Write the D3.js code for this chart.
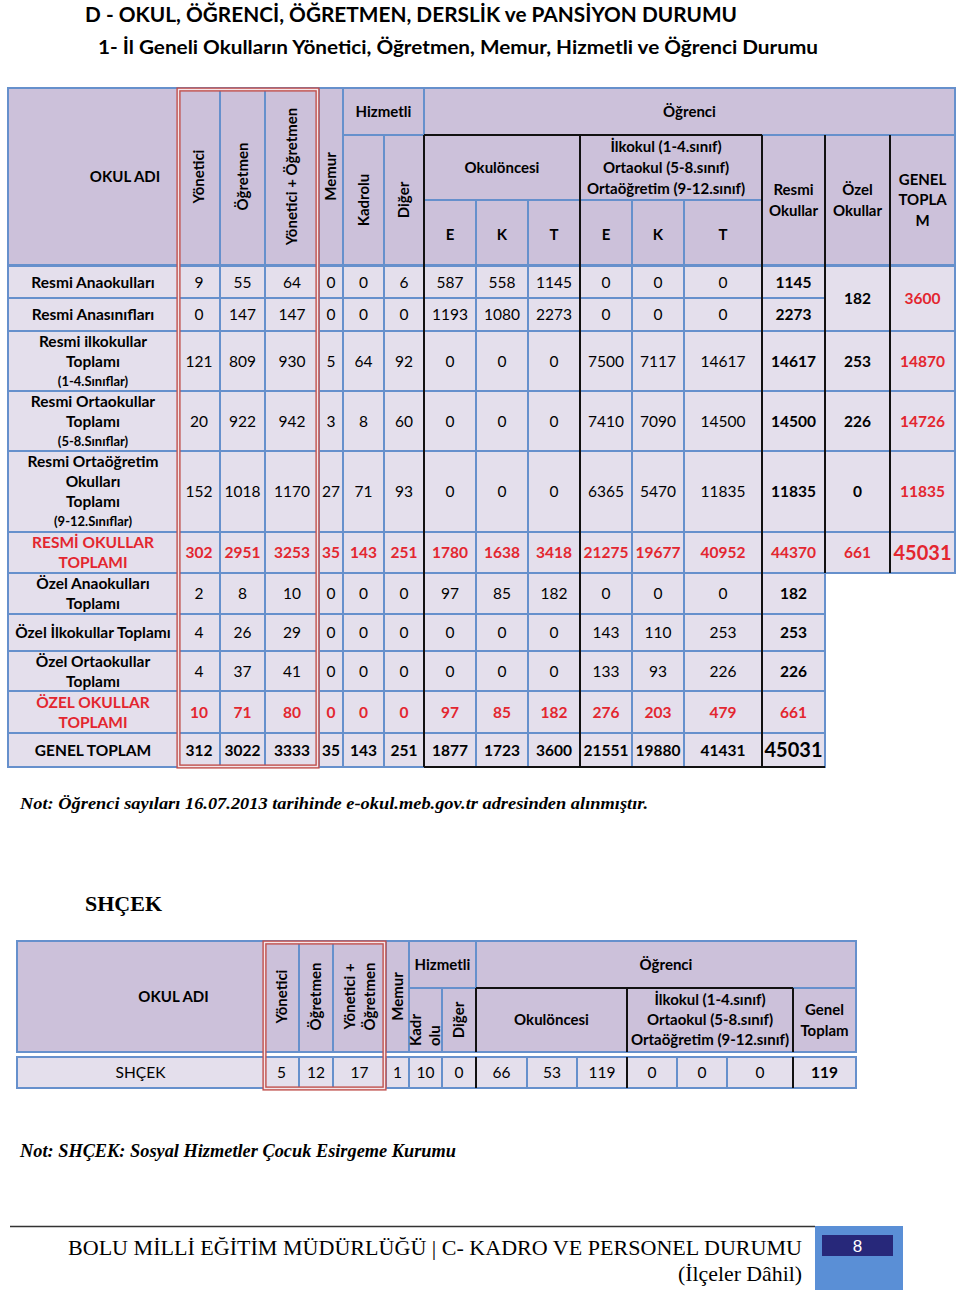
<!DOCTYPE html>
<html>
<head>
<meta charset="utf-8">
<script src="https://cdn.jsdelivr.net/npm/d3@7"></script>
<style>
  body { margin: 0; background: #fff; }
  svg { display: block; font-family: Lato, "Open Sans", sans-serif; }
</style>
</head>
<body>
<svg id="page" width="960" height="1298"></svg>
<script>
// ---- data ----
const rowLabels = [
  ["Resmi Anaokulları"],
  ["Resmi Anasınıfları"],
  ["Resmi ilkokullar", "Toplamı", "(1-4.Sınıflar)"],
  ["Resmi Ortaokullar", "Toplamı", "(5-8.Sınıflar)"],
  ["Resmi Ortaöğretim", "Okulları", "Toplamı", "(9-12.Sınıflar)"],
  ["RESMİ OKULLAR", "TOPLAMI"],
  ["Özel Anaokulları", "Toplamı"],
  ["Özel İlkokullar Toplamı"],
  ["Özel Ortaokullar", "Toplamı"],
  ["ÖZEL OKULLAR", "TOPLAMI"],
  ["GENEL TOPLAM"]
];
// n = normal row, t = red sub total, g = grand total
const rowKinds = ["n", "n", "n", "n", "n", "t", "n", "n", "n", "t", "g"];

const columns = ["yon", "ogr", "yonOgr", "memur", "kadrolu", "diger", "okE", "okK", "okT", "ilE", "ilK", "ilT"];
const rowValues = [
  [9, 55, 64, 0, 0, 6, 587, 558, 1145, 0, 0, 0],
  [0, 147, 147, 0, 0, 0, 1193, 1080, 2273, 0, 0, 0],
  [121, 809, 930, 5, 64, 92, 0, 0, 0, 7500, 7117, 14617],
  [20, 922, 942, 3, 8, 60, 0, 0, 0, 7410, 7090, 14500],
  [152, 1018, 1170, 27, 71, 93, 0, 0, 0, 6365, 5470, 11835],
  [302, 2951, 3253, 35, 143, 251, 1780, 1638, 3418, 21275, 19677, 40952],
  [2, 8, 10, 0, 0, 0, 97, 85, 182, 0, 0, 0],
  [4, 26, 29, 0, 0, 0, 0, 0, 0, 143, 110, 253],
  [4, 37, 41, 0, 0, 0, 0, 0, 0, 133, 93, 226],
  [10, 71, 80, 0, 0, 0, 97, 85, 182, 276, 203, 479],
  [312, 3022, 3333, 35, 143, 251, 1877, 1723, 3600, 21551, 19880, 41431]
];
const resmiOkullar = [1145, 2273, 14617, 14500, 11835, 44370, 182, 253, 226, 661, 45031];
// Özel / Genel columns: first value covers the first two rows
const ozelRows = [[0, 1], [2, 2], [3, 3], [4, 4], [5, 5]];
const ozelOkullar = [182, 253, 226, 0, 661];
const genelToplam = [3600, 14870, 14726, 11835, 45031];

const shcekName = "SHÇEK";
const shcekValues = [5, 12, 17, 1, 10, 0, 66, 53, 119, 0, 0, 0];
const shcekTotal = 119;

// ---- layout ----
const BLUE = "#6690cc", HEAD = "#ccc1da", CELL = "#e4dfec", RED = "#e3262f", BOX = "#c0504d";
const svg = d3.select("#page");

const colKeys = ["name", ...columns, "resmi", "ozel", "genel"];
const colEdges = [8, 178, 220, 265, 319, 343, 384, 424, 476, 528, 580, 632, 684, 762, 825, 890, 955];
const colX = d3.scaleOrdinal(colKeys, colEdges.slice(0, -1));
const colW = d3.scaleOrdinal(colKeys, d3.pairs(colEdges, (a, b) => b - a));

const rowIdx = d3.range(rowLabels.length);
const rowEdges = [266, 298, 331, 391, 451, 532, 573, 614, 651, 691, 733, 767];
const rowY = d3.scaleOrdinal(rowIdx, rowEdges.slice(0, -1));
const rowH = d3.scaleOrdinal(rowIdx, d3.pairs(rowEdges, (a, b) => b - a));

function label(parent, x, y, lines, o = {}) {
  const size = o.size || 15, lh = o.lh || 20;
  const g = parent.append("g")
    .attr("transform", `translate(${x},${y})` + (o.rotate ? " rotate(-90)" : ""));
  const t = g.append("text")
    .attr("text-anchor", o.anchor || "middle")
    .attr("font-weight", o.weight || "bold")
    .attr("fill", o.color || "#000");
  if (o.family) t.attr("font-family", o.family);
  if (o.style) t.attr("font-style", o.style);
  lines.forEach((line, i) => {
    const small = o.smallParen && line.startsWith("(");
    const sp = t.append("tspan")
      .attr("x", 0)
      .attr("y", (i - (lines.length - 1) / 2) * lh)
      .attr("dy", "0.36em")
      .attr("font-size", small ? 13 : size)
      .text(line);
    if (o.textLength) sp.attr("textLength", o.textLength).attr("lengthAdjust", "spacingAndGlyphs");
  });
  return t;
}

// ---- titles ----
label(svg, 85, 14, ["D - OKUL, ÖĞRENCİ, ÖĞRETMEN, DERSLİK ve PANSİYON DURUMU"],
  { anchor: "start", size: 21, textLength: 652 });
label(svg, 98, 47, ["1-  İl Geneli Okulların Yönetici, Öğretmen, Memur, Hizmetli ve Öğrenci Durumu"],
  { anchor: "start", size: 19, textLength: 720 });

// ---- main table header ----
const head = svg.append("g");
const mainHeader = [
  { x0: 8, x1: 178, y0: 88, y1: 265, lines: ["OKUL ADI"], dx: 32 },
  { x0: 178, x1: 220, y0: 88, y1: 265, lines: ["Yönetici"], rotate: true },
  { x0: 220, x1: 265, y0: 88, y1: 265, lines: ["Öğretmen"], rotate: true },
  { x0: 265, x1: 319, y0: 88, y1: 265, lines: ["Yönetici + Öğretmen"], rotate: true },
  { x0: 319, x1: 343, y0: 88, y1: 265, lines: ["Memur"], rotate: true },
  { x0: 343, x1: 424, y0: 88, y1: 135, lines: ["Hizmetli"] },
  { x0: 343, x1: 384, y0: 135, y1: 265, lines: ["Kadrolu"], rotate: true },
  { x0: 384, x1: 424, y0: 135, y1: 265, lines: ["Diğer"], rotate: true },
  { x0: 424, x1: 955, y0: 88, y1: 135, lines: ["Öğrenci"] },
  { x0: 424, x1: 580, y0: 135, y1: 200, lines: ["Okulöncesi"] },
  { x0: 580, x1: 762, y0: 135, y1: 200, lines: ["İlkokul (1-4.sınıf)", "Ortaokul (5-8.sınıf)", "Ortaöğretim (9-12.sınıf)"], dx: -5, lh: 21 },
  { x0: 762, x1: 825, y0: 135, y1: 265, lines: ["Resmi", "Okullar"], lh: 21 },
  { x0: 825, x1: 890, y0: 135, y1: 265, lines: ["Özel", "Okullar"], lh: 21 },
  { x0: 890, x1: 955, y0: 135, y1: 265, lines: ["GENEL", "TOPLA", "M"], lh: 20.5 }
];
["okE", "okK", "okT", "ilE", "ilK", "ilT"].forEach((k, i) => {
  mainHeader.push({ x0: colX(k), x1: colX(k) + colW(k), y0: 200, y1: 265, lines: ["EKTEKT"[i]], dy: 2 });
});
mainHeader.forEach(h => {
  head.append("rect").attr("x", h.x0).attr("y", h.y0).attr("width", h.x1 - h.x0).attr("height", h.y1 - h.y0)
    .attr("fill", HEAD).attr("stroke", BLUE).attr("stroke-width", 2);
});
mainHeader.forEach(h => {
  label(head, (h.x0 + h.x1) / 2 + (h.dx || 0), (h.y0 + h.y1) / 2 + (h.dy || 0), h.lines,
    { rotate: h.rotate, size: 15, lh: h.lh });
});

// ---- main table body ----
const body = svg.append("g");
const cells = [];
rowIdx.forEach(r => {
  const kind = rowKinds[r];
  cells.push({ key: "name", r0: r, r1: r, lines: rowLabels[r], weight: "bold", color: kind === "t" ? RED : "#000", size: 15.5 });
  columns.forEach((k, ci) => {
    cells.push({ key: k, r0: r, r1: r, lines: [String(rowValues[r][ci])],
      weight: kind === "n" ? "normal" : "bold", color: kind === "t" ? RED : "#000" });
  });
  cells.push({ key: "resmi", r0: r, r1: r, lines: [String(resmiOkullar[r])], weight: "bold",
    color: kind === "t" ? RED : "#000", size: kind === "g" ? 20 : 15.5 });
});
ozelRows.forEach(([r0, r1], i) => {
  const total = rowKinds[r0] === "t";
  cells.push({ key: "ozel", r0, r1, lines: [String(ozelOkullar[i])], weight: "bold", color: total ? RED : "#000", size: 15.5 });
  cells.push({ key: "genel", r0, r1, lines: [String(genelToplam[i])], weight: "bold", color: RED, size: total ? 20 : 15.5 });
});

cells.forEach(c => {
  c.x = colX(c.key); c.w = colW(c.key);
  c.y = rowY(c.r0); c.h = rowY(c.r1) + rowH(c.r1) - c.y;
});
body.selectAll("rect").data(cells).join("rect")
  .attr("x", d => d.x).attr("y", d => d.y).attr("width", d => d.w).attr("height", d => d.h)
  .attr("fill", CELL).attr("stroke", BLUE).attr("stroke-width", 2);
cells.forEach(c => {
  label(body, c.x + c.w / 2, c.y + c.h / 2, c.lines,
    { size: c.size || 15.5, weight: c.weight, color: c.color, smallParen: true, lh: 20 });
});

// black separators
const lines = svg.append("g").attr("stroke", "#111").attr("stroke-width", 2);
const tableBottom = rowY(10) + rowH(10);
[colX("okE"), colX("ilE"), colX("resmi")].forEach(x => {
  lines.append("line").attr("x1", x).attr("x2", x).attr("y1", 135).attr("y2", tableBottom);
});
[colX("ozel"), colX("genel")].forEach(x => {
  lines.append("line").attr("x1", x).attr("x2", x).attr("y1", 135).attr("y2", rowY(6));
});
lines.append("line").attr("x1", colX("okE")).attr("x2", colX("resmi")).attr("y1", 135).attr("y2", 135);
lines.append("line").attr("x1", colX("okE")).attr("x2", colX("ozel")).attr("y1", tableBottom).attr("y2", tableBottom);

// red double frame
function redFrame(x, y, w, h) {
  svg.append("rect").attr("x", x).attr("y", y).attr("width", w).attr("height", h)
    .attr("fill", "none").attr("stroke", BOX).attr("stroke-width", 4.2);
  svg.append("rect").attr("x", x).attr("y", y).attr("width", w).attr("height", h)
    .attr("fill", "none").attr("stroke", "#f4e6ea").attr("stroke-width", 1.4);
}
redFrame(colX("yon") + 0.5, 89.5, colX("memur") - colX("yon") - 2, tableBottom - 90);

// ---- notes ----
label(svg, 20, 803, ["Not: Öğrenci sayıları 16.07.2013 tarihinde e-okul.meb.gov.tr adresinden alınmıştır."],
  { anchor: "start", size: 17.5, family: "'Liberation Serif', 'DejaVu Serif', serif", style: "italic", textLength: 628 });
label(svg, 85, 903, ["SHÇEK"], { anchor: "start", size: 22, family: "'Liberation Serif', serif", textLength: 77 });

// ---- SHÇEK table ----
const sKeys = ["name", ...columns, "total"];
const sEdges = [17, 264, 299, 333, 386, 409, 442, 476, 527, 577, 627, 677, 727, 793, 856];
const sX = d3.scaleOrdinal(sKeys, sEdges.slice(0, -1));
const sW = d3.scaleOrdinal(sKeys, d3.pairs(sEdges, (a, b) => b - a));

const sHead = svg.append("g");
const shcekHeader = [
  { x0: 17, x1: 264, y0: 941, y1: 1052, lines: ["OKUL ADI"], dx: 33 },
  { x0: 264, x1: 299, y0: 941, y1: 1052, lines: ["Yönetici"], rotate: true },
  { x0: 299, x1: 333, y0: 941, y1: 1052, lines: ["Öğretmen"], rotate: true },
  { x0: 333, x1: 386, y0: 941, y1: 1052, lines: ["Yönetici +", "Öğretmen"], rotate: true, lh: 20 },
  { x0: 386, x1: 409, y0: 941, y1: 1052, lines: ["Memur"], rotate: true },
  { x0: 409, x1: 476, y0: 941, y1: 988, lines: ["Hizmetli"] },
  { x0: 409, x1: 442, y0: 988, y1: 1052, lines: ["Kadr", "olu"], rotate: true, lh: 19, anchor: "start", at: 1046 },
  { x0: 442, x1: 476, y0: 988, y1: 1052, lines: ["Diğer"], rotate: true },
  { x0: 476, x1: 856, y0: 941, y1: 988, lines: ["Öğrenci"] },
  { x0: 476, x1: 627, y0: 988, y1: 1052, lines: ["Okulöncesi"] },
  { x0: 627, x1: 793, y0: 988, y1: 1052, lines: ["İlkokul (1-4.sınıf)", "Ortaokul (5-8.sınıf)", "Ortaöğretim (9-12.sınıf)"], lh: 20 },
  { x0: 793, x1: 856, y0: 988, y1: 1052, lines: ["Genel", "Toplam"], lh: 21 }
];
shcekHeader.forEach(h => {
  sHead.append("rect").attr("x", h.x0).attr("y", h.y0).attr("width", h.x1 - h.x0).attr("height", h.y1 - h.y0)
    .attr("fill", HEAD).attr("stroke", BLUE).attr("stroke-width", 2);
});
shcekHeader.forEach(h => {
  label(sHead, (h.x0 + h.x1) / 2 + (h.dx || 0), h.at || (h.y0 + h.y1) / 2, h.lines,
    { rotate: h.rotate, size: 15, lh: h.lh, anchor: h.anchor });
});

const sRow = { y: 1057, h: 31 };
const sCells = sKeys.map((k, i) => ({
  key: k,
  text: i === 0 ? shcekName : String(i <= columns.length ? shcekValues[i - 1] : shcekTotal),
  weight: k === "total" ? "bold" : "normal"
}));
svg.append("g").selectAll("rect").data(sCells).join("rect")
  .attr("x", d => sX(d.key)).attr("y", sRow.y).attr("width", d => sW(d.key)).attr("height", sRow.h)
  .attr("fill", CELL).attr("stroke", BLUE).attr("stroke-width", 2);
const sBody = svg.append("g");
sCells.forEach(d => {
  label(sBody, sX(d.key) + sW(d.key) / 2, sRow.y + sRow.h / 2, [d.text], { size: 15.5, weight: d.weight });
});

const sLines = svg.append("g").attr("stroke", "#111").attr("stroke-width", 2);
[sX("okE"), sX("ilE"), sX("total")].forEach(x => {
  sLines.append("line").attr("x1", x).attr("x2", x).attr("y1", 988).attr("y2", 1052);
  sLines.append("line").attr("x1", x).attr("x2", x).attr("y1", sRow.y).attr("y2", sRow.y + sRow.h);
});
sLines.append("line").attr("x1", sX("okE")).attr("x2", sX("total")).attr("y1", 988).attr("y2", 988);

redFrame(sX("yon") + 0.5, 942.5, sX("memur") - sX("yon") - 2, sRow.y + sRow.h - 942);

label(svg, 20, 1151, ["Not: SHÇEK: Sosyal Hizmetler Çocuk Esirgeme Kurumu"],
  { anchor: "start", size: 18, family: "'Liberation Serif', serif", style: "italic", textLength: 436 });

// ---- footer ----
svg.append("line").attr("x1", 10).attr("x2", 815).attr("y1", 1226.5).attr("y2", 1226.5)
  .attr("stroke", "#333").attr("stroke-width", 1.3);
svg.append("rect").attr("x", 815).attr("y", 1226).attr("width", 88).attr("height", 64).attr("fill", "#5a8fd6");
svg.append("rect").attr("x", 822).attr("y", 1235).attr("width", 71).attr("height", 21).attr("fill", "#27287a");
label(svg, 857.5, 1245.5, ["8"], { size: 17, weight: "normal", color: "#fff", family: "'Liberation Sans Narrow', 'Liberation Sans', sans-serif" });
label(svg, 802, 1247, ["BOLU MİLLİ EĞİTİM MÜDÜRLÜĞÜ | C- KADRO VE PERSONEL DURUMU"],
  { anchor: "end", size: 22, weight: "normal", family: "'Liberation Serif', serif", textLength: 734 });
label(svg, 802, 1273, ["(İlçeler Dâhil)"],
  { anchor: "end", size: 22, weight: "normal", family: "'Liberation Serif', serif", textLength: 124 });
</script>
</body>
</html>
